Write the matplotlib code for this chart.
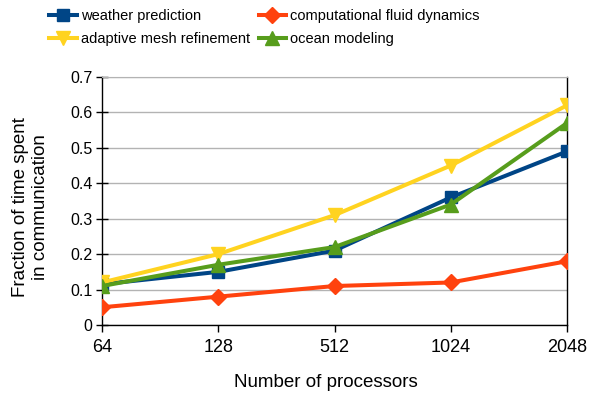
import matplotlib
matplotlib.use("Agg")
import matplotlib.pyplot as plt

plt.rcParams['font.family'] = ['Liberation Sans', 'DejaVu Sans']

categories = ["64", "128", "512", "1024", "2048"]
weather = [0.115, 0.15, 0.21, 0.36, 0.49]
cfd = [0.05, 0.08, 0.11, 0.12, 0.18]
amr = [0.12, 0.20, 0.31, 0.45, 0.62]
ocean = [0.11, 0.17, 0.22, 0.34, 0.57]
yticks = [0, 0.1, 0.2, 0.3, 0.4, 0.5, 0.6, 0.7]

fig = plt.figure(figsize=(5.89, 3.95), dpi=100)
ax = fig.add_axes([102/589, 1-325/395, (567-102)/589, (325-77)/395])

x = list(range(len(categories)))
lw = 2.9
h_w, = ax.plot(x, weather, color="#004586", lw=lw, marker="s", ms=9, label="weather prediction", zorder=3)
h_c, = ax.plot(x, cfd, color="#ff420e", lw=lw, marker="D", ms=8, label="computational fluid dynamics", zorder=3)
h_a, = ax.plot(x, amr, color="#ffd320", lw=lw, marker="v", ms=10.5, label="adaptive mesh refinement", zorder=3)
h_o, = ax.plot(x, ocean, color="#579d1c", lw=lw, marker="^", ms=10.5, label="ocean modeling", zorder=3)

ax.set_xlim(0, len(categories)-1)
ax.set_ylim(0, 0.7)
ax.set_xticks(x)
ax.set_xticklabels(categories)
ax.set_yticks(yticks)
ax.set_yticklabels([f"{v:g}" for v in yticks])
ax.yaxis.grid(True, color="#b3b3b3", lw=1)
ax.set_axisbelow(True)
for s in ["left", "right", "bottom"]:
    ax.spines[s].set_color("black")
    ax.spines[s].set_linewidth(1)
ax.spines["top"].set_color("#b3b3b3")
ax.tick_params(axis="both", width=1, color="black")
ax.tick_params(axis="y", direction="inout", length=8, pad=3, labelsize=11.5)
ax.tick_params(axis="x", direction="out", length=5, pad=5, labelsize=13)
ax.set_xlabel("Number of processors", fontsize=13.5, labelpad=13, x=0.482)
ax.set_ylabel("Fraction of time spent\nin communication", fontsize=13.5, labelpad=15,
              linespacing=1.25, y=0.476)

fig.legend([h_w, h_a, h_c, h_o],
           ["weather prediction", "adaptive mesh refinement", "computational fluid dynamics", "ocean modeling"],
           loc="upper left", bbox_to_anchor=(45/589, 1 - 5/395), ncol=2, frameon=False,
           fontsize=10.5, handlelength=1.9, handletextpad=0.25, columnspacing=0.6,
           labelspacing=0.6, borderaxespad=0.1, borderpad=0.2)

fig.savefig("out.png", dpi=100)
